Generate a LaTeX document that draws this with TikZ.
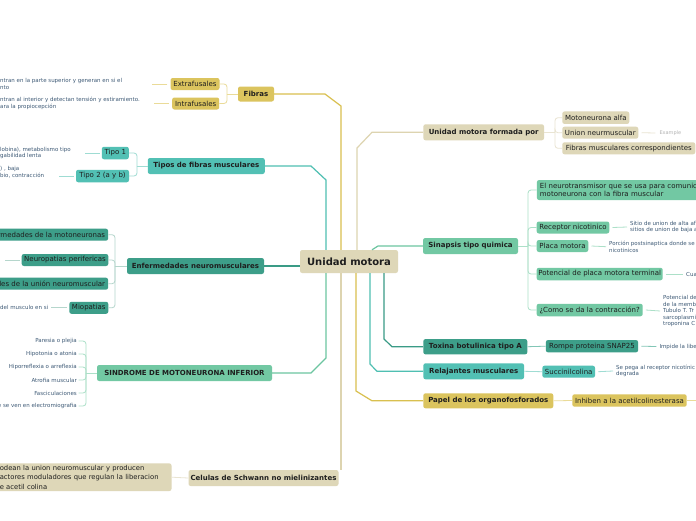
\documentclass[tikz,border=0pt]{standalone}
\usepackage{fontspec}
\setmainfont{DejaVu Sans}
\definecolor{beige}{HTML}{DED7B8}
\definecolor{yel}{HTML}{DBC45E}
\definecolor{tealc}{HTML}{52C0B4}
\definecolor{dteal}{HTML}{3D9E89}
\definecolor{mint}{HTML}{72C8A3}
\definecolor{txt}{HTML}{1E1E1E}
\definecolor{leaf}{HTML}{3E5A76}
\definecolor{ysub}{HTML}{EADB98}
\definecolor{tsub}{HTML}{9FDCD3}
\definecolor{esub}{HTML}{B5D6CC}
\definecolor{msub}{HTML}{ACE0C8}
\definecolor{bsub}{HTML}{E9E4D2}
\definecolor{xsub}{HTML}{82C6B6}
\definecolor{bline}{HTML}{DDD4B0}
\definecolor{yline}{HTML}{D9C04F}
\definecolor{tline}{HTML}{4FBFB2}
\definecolor{dline}{HTML}{3A9B86}
\definecolor{mline}{HTML}{6CC5A0}
\begin{document}
\begin{tikzpicture}[x=1pt,y=-1pt,
 box/.style={rounded corners=2.2pt,inner sep=0pt,text=txt},
 br/.style={box,font=\fontsize{7}{8}\selectfont\bfseries,minimum height=16pt},
 sb/.style={box,font=\fontsize{7}{8}\selectfont,minimum height=12pt},
 lf/.style={inner sep=0pt,text=leaf,font=\fontsize{5.5}{6.3}\selectfont,align=left},
 sl/.style={lf,font=\fontsize{5.5}{6.5}\selectfont,anchor=east},
 mainl/.style={line width=1.2pt},
 thinl/.style={line width=0.8pt},
 rc/.style={rounded corners=3pt}]
\useasboundingbox (0,0) rectangle (696,520);
\fill[white] (0,0) rectangle (696,520);

% centre
\node[box,fill=beige,font=\fontsize{10}{12}\selectfont\bfseries,minimum width=98pt,minimum height=23pt] (c) at (349,261.5) {Unidad motora};

% Fibras
\node[br,fill=yel,minimum width=36pt,minimum height=15pt] (fib) at (256,94) {Fibras};
\node[sb,fill=yel,minimum width=49pt] (extra) at (195,84) {Extrafusales};
\node[sb,fill=yel,minimum width=47pt] (intra) at (195.7,103.5) {Intrafusales};
\node[lf,anchor=west] (exl) at (0,84) {ntran en la parte superior y generan en si el\\nto};
\node[lf,anchor=west] (inl) at (0,103.5) {ntran al interior y detectan tensión y estiramiento.\\ara la propiocepción};

% Tipos
\node[br,fill=tealc,minimum width=117pt] (tipos) at (206.3,166) {Tipos de fibras musculares};
\node[sb,fill=tealc,minimum width=27pt,minimum height=12.5pt] (t1) at (115.3,153) {Tipo 1};
\node[sb,fill=tealc,minimum width=53pt,minimum height=12.5pt] (t2) at (102.5,176) {Tipo 2 (a y b)};
\node[lf,anchor=west] (t1l) at (0,153) {lobina), metabolismo tipo\\gabilidad lenta};
\node[lf,anchor=west] (t2l) at (0,172.3) {) , baja\\bio, contracción};

% Enfermedades
\node[br,fill=dteal,minimum width=137pt] (enf) at (195.5,266) {Enfermedades neuromusculares};
\node[sb,fill=dteal,anchor=east,inner xsep=3pt] (e1) at (108.3,234.7) {rmedades de la motoneuronas};
\node[sb,fill=dteal,minimum width=86.6pt] (e2) at (65,260) {Neuropatias perifericas};
\node[sb,fill=dteal,anchor=east,inner xsep=3pt] (e3) at (108.3,283.7) {des de la unión neuromuscular};
\node[sb,fill=dteal,minimum width=39pt] (e4) at (88.8,307.8) {Miopatias};
\node[lf,anchor=west] (e4l) at (0,307.8) {del musculo en si};

% Sindrome
\node[br,fill=mint,minimum width=175pt] (sind) at (184.5,373) {SINDROME DE MOTONEURONA INFERIOR};
\node[sl] (s1) at (77,341) {Paresia o plejia};
\node[sl] (s2) at (77,354) {Hipotonia o atonia};
\node[sl] (s3) at (77,367) {Hiporreflexia o arreflexia};
\node[sl] (s4) at (77,380) {Atrofia muscular};
\node[sl] (s5) at (77,393) {Fasciculaciones};
\node[sl] (s6) at (77,406) {e se ven en electromiografia};

% Celulas
\node[br,fill=beige,minimum width=150pt] (cel) at (263.5,478) {Celulas de Schwann no mielinizantes};
\node[box,fill=beige,anchor=east,text width=168.7pt,inner xsep=3pt,minimum height=27.7pt,align=left,font=\fontsize{6.8}{9.6}\selectfont] (cl) at (171.7,477.2) {odean la union neuromuscular y producen\\actores moduladores que regulan la liberacion\\e acetil colina};

% Unidad motora formada por
\node[br,fill=beige,minimum width=120.7pt] (umf) at (483.7,132.3) {Unidad motora formada por};
\node[sb,fill=beige,minimum width=67pt,minimum height=12.5pt] (mot) at (595.8,117.7) {Motoneurona alfa};
\node[sb,fill=beige,minimum width=76pt] (unm) at (600.3,132.7) {Union neurmuscular};
\node[sb,fill=beige,minimum width=133pt] (fmc) at (628.8,148.3) {Fibras musculares correspondientes};
\node[lf,text=gray!60,font=\fontsize{5}{6}\selectfont,anchor=west] (ex) at (659.3,133) {Example};

% Sinapsis
\node[br,fill=mint,minimum width=95pt] (syn) at (470.5,246) {Sinapsis tipo quimica};
\node[box,fill=mint,anchor=west,text width=170pt,inner xsep=3pt,minimum height=20pt,align=left,font=\fontsize{7}{8.3}\selectfont] (neu) at (536.7,190) {El neurotransmisor que se usa para comunic\\motoneurona con la fibra muscular};
\node[sb,fill=mint,minimum width=72.6pt] (rec) at (573,227.5) {Receptor nicotinico};
\node[sb,fill=mint,minimum width=51.6pt] (pla) at (562.5,246) {Placa motora};
\node[sb,fill=mint,minimum width=126pt,minimum height=12.5pt] (pot) at (599.7,274) {Potencial de placa motora terminal};
\node[sb,fill=mint,minimum width=106pt,minimum height=12.5pt] (como) at (589.7,310) {¿Como se da la contracción?};
\node[lf,anchor=west] (recl) at (630,227) {Sitio de union de alta af\\sitios de union de baja a};
\node[lf,anchor=west] (plal) at (609,246.7) {Porción postsinaptica donde se\\nicotinicos};
\node[lf,anchor=west] (potl) at (686,274) {Cua};
\node[lf,anchor=west,font=\fontsize{5.5}{6.5}\selectfont] (comol) at (663,311) {Potencial de\\de la memb\\Tubulo T. Tr\\sarcoplasmi\\troponina C};

% Toxina, Relajantes, Papel
\node[br,fill=dteal,minimum width=104pt,minimum height=15.3pt] (tox) at (475.3,346.7) {Toxina botulinica tipo A};
\node[sb,fill=dteal,minimum width=92.3pt,minimum height=12.3pt] (rom) at (592,346.2) {Rompe proteina SNAP25};
\node[lf,anchor=west] (roml) at (659.3,346.5) {Impide la libe};
\node[br,fill=tealc,minimum width=100.7pt] (rel) at (473.7,371.3) {Relajantes musculares};
\node[sb,fill=tealc,minimum width=52.7pt] (suc) at (568.7,371.7) {Succinilcolina};
\node[lf,anchor=west] (sucl) at (616,371) {Se pega al receptor nicotínic\\degrada};
\node[br,fill=yel,minimum width=130pt,minimum height=15pt] (pap) at (488.3,400.8) {Papel de los organofosforados};
\node[sb,fill=yel,minimum width=114.4pt,minimum height=12.4pt] (inh) at (629.5,400.5) {Inhiben a la acetilcolinesterasa};

% main connectors
\coordinate (fA) at (325,94); \coordinate (fB) at (341,106);
\draw[mainl,yline] (fib.east) -- (fA) -- (fB) -- (fB |- c.north);
\coordinate (tA) at (311,166); \coordinate (tB) at (326,180);
\draw[mainl,tline] (tipos.east) -- (tA) -- (tB) -- (tB |- c.north);
\draw[mainl,dline] (enf.east) -- (enf.east -| c.west);
\coordinate (sA) at (311,373); \coordinate (sB) at (326,358);
\draw[mainl,mline] (sind.east) -- (sA) -- (sB) -- (sB |- c.south);
\coordinate (cA) at (341,300);
\draw[mainl,bline] (cA |- c.south) -- (cA |- cel.north);
\coordinate (uA) at (357,148); \coordinate (uB) at (372,132.3);
\draw[mainl,bline] (uA |- c.north) -- (uA) -- (uB) -- (umf.west);
\coordinate (yA) at (372,250); \coordinate (yB) at (378,246);
\draw[mainl,mline] (yA |- c.north) -- (yB) -- (syn.west);
\coordinate (xA) at (384,339); \coordinate (xB) at (392,346.7);
\draw[mainl,dline] (xA |- c.south) -- (xA) -- (xB) -- (tox.west);
\coordinate (rA) at (370,364); \coordinate (rB) at (377,371.3);
\draw[mainl,tline] (rA |- c.south) -- (rA) -- (rB) -- (rel.west);
\coordinate (pA) at (356,391); \coordinate (pB) at (372,400.8);
\draw[mainl,yline] (pA |- c.south) -- (pA) -- (pB) -- (pap.west);

% brackets
\coordinate (fbk) at (227,94);
\draw[thinl,ysub] (fib.west) -- (fbk);
\draw[thinl,ysub,rc] (fbk) |- (extra.east);
\draw[thinl,ysub,rc] (fbk) |- (intra.east);
\draw[thinl,ysub] ([xshift=-3pt]extra.west) -- ++(-15,0);
\draw[thinl,ysub] ([xshift=-3pt]intra.west) -- ++(-15,0);

\coordinate (tbk) at (137,166);
\draw[thinl,tsub] (tipos.west) -- (tbk);
\draw[thinl,tsub,rc] (tbk) |- (t1.east);
\draw[thinl,tsub,rc] (tbk) |- (t2.east);
\draw[thinl,tsub] ([xshift=-2pt]t1.west) -- ++(-15,0);
\draw[thinl,tsub] ([xshift=-2pt]t2.west) -- ++(-15,0);

\coordinate (ebk) at (115,266);
\draw[thinl,esub] (enf.west) -- (ebk);
\foreach \n in {e1,e2,e3,e4} \draw[thinl,esub,rc] (ebk) |- (\n.east);
\draw[thinl,esub] ([xshift=-2pt]e2.west) -- ++(-15,0);
\draw[thinl,esub] ([xshift=-2pt]e4.west) -- ([xshift=3pt]e4l.east);

\coordinate (sbk) at (86,373);
\draw[thinl,msub] (sind.west) -- (sbk);
\foreach \n in {s1,s2,s3,s4,s5,s6} \draw[thinl,msub,rc] (sbk) |- ([xshift=1.5pt]\n.east);

\draw[thinl,bsub] (cel.west) -- (cl.east);

\coordinate (ubk) at (555,132.3);
\draw[thinl,bsub] (umf.east) -- (ubk);
\foreach \n in {mot,unm,fmc} \draw[thinl,bsub,rc] (ubk) |- (\n.west);
\draw[thinl,bsub] ([xshift=3pt]unm.east) -- ([xshift=-4pt]ex.west);

\coordinate (ybk) at (528,246);
\draw[thinl,msub] (syn.east) -- (ybk);
\foreach \n in {neu,rec,pla,pot,como} \draw[thinl,msub,rc] (ybk) |- (\n.west);
\draw[thinl,msub] ([xshift=3pt]rec.east) -- ([xshift=-3pt]recl.west);
\draw[thinl,msub] ([xshift=3pt]pla.east) -- ([xshift=-3pt]plal.west);
\draw[thinl,msub] ([xshift=3pt]pot.east) -- ([xshift=-3pt]potl.west);
\draw[thinl,msub] ([xshift=3pt]como.east) -- ([xshift=-3pt]comol.west);

\draw[thinl,xsub] (tox.east) -- (rom.west);
\draw[thinl,xsub] ([xshift=3pt]rom.east) -- ([xshift=-3pt]roml.west);
\draw[thinl,tsub] (rel.east) -- (suc.west);
\draw[thinl,tsub] ([xshift=3pt]suc.east) -- ([xshift=-3pt]sucl.west);
\draw[thinl,ysub] (pap.east) -- (inh.west);
\draw[thinl,ysub] (inh.east) -- ++(12,0);
\end{tikzpicture}
\end{document}
